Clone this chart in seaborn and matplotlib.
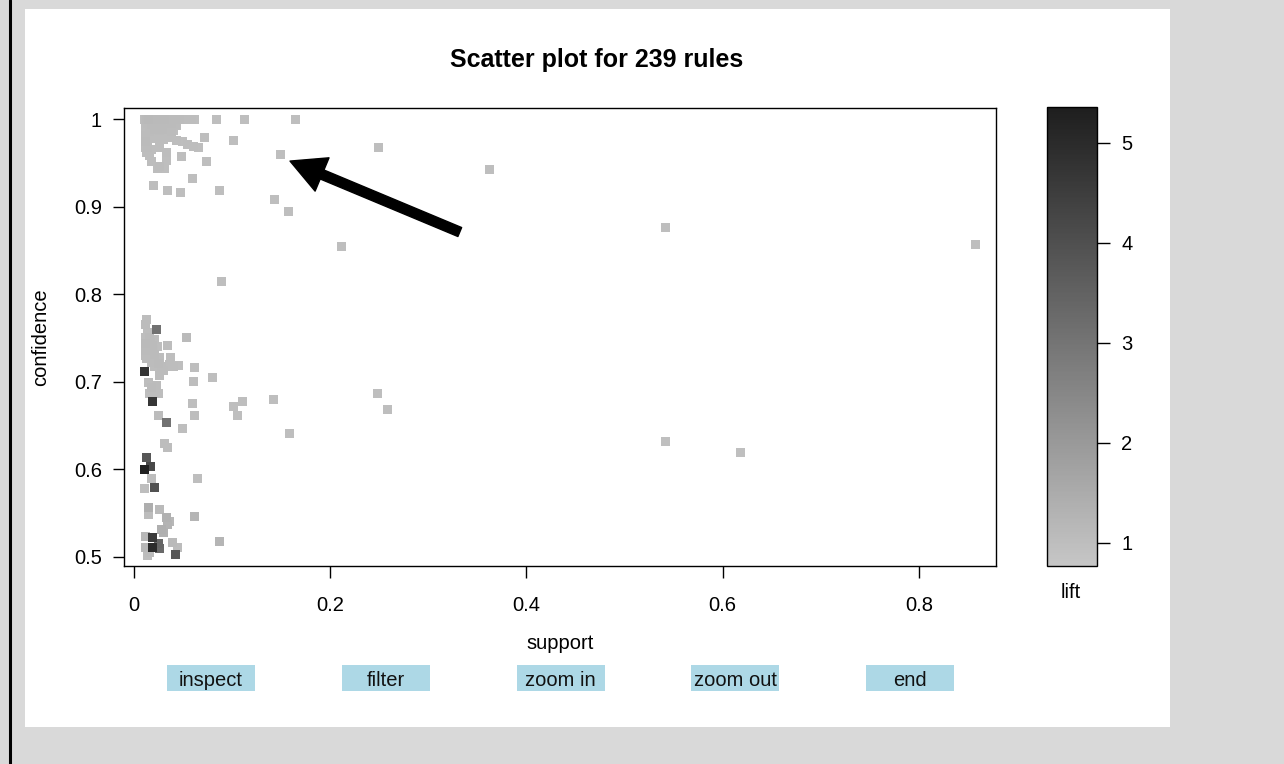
import numpy as np
import pandas as pd
import matplotlib
matplotlib.use("Agg")
import matplotlib.pyplot as plt
from matplotlib.colors import LinearSegmentedColormap, Normalize
from matplotlib.patches import Rectangle
from matplotlib.lines import Line2D
import matplotlib.cm as cm
import seaborn as sns

# ---------------- data ----------------
title_text = "Scatter plot for 239 rules"
x_label = "support"
y_label = "confidence"
color_label = "lift"
x_ticks = [0, 0.2, 0.4, 0.6, 0.8]
x_tick_labels = ["0", "0.2", "0.4", "0.6", "0.8"]
y_ticks = [0.5, 0.6, 0.7, 0.8, 0.9, 1.0]
y_tick_labels = ["0.5", "0.6", "0.7", "0.8", "0.9", "1"]
lift_ticks = [1, 2, 3, 4, 5]
buttons = ["inspect", "filter", "zoom in", "zoom out", "end"]

# rules with confidence = 1
full_support = [0.011, 0.012, 0.013, 0.013, 0.014, 0.015, 0.016, 0.017, 0.018, 0.019,
                0.020, 0.021, 0.022, 0.023, 0.024, 0.025, 0.026, 0.027, 0.028, 0.029,
                0.030, 0.031, 0.032, 0.033, 0.034, 0.035, 0.036, 0.037, 0.038, 0.039,
                0.040, 0.041, 0.042, 0.043, 0.044, 0.045, 0.046, 0.047, 0.048, 0.049,
                0.050, 0.051, 0.052, 0.053, 0.055, 0.056, 0.058, 0.059, 0.061, 0.062,
                0.084, 0.113, 0.165]
full_lift = [1.00, 1.05, 1.10, 1.02, 1.08, 1.12, 1.04, 1.06, 1.09, 1.01,
             1.03, 1.07, 1.11, 1.00, 1.05, 1.02, 1.08, 1.04, 1.06, 1.01,
             1.03, 1.10, 1.00, 1.07, 1.02, 1.05, 1.09, 1.01, 1.04, 1.06,
             1.03, 1.00, 1.08, 1.02, 1.05, 1.01, 1.04, 1.00, 1.03, 1.02,
             1.01, 1.00, 1.02, 1.01, 1.00, 1.01, 1.00, 1.01, 1.00, 1.00,
             1.00, 1.00, 1.00]

# rules with confidence 0.9 - 1 near the origin
high_support = [0.012, 0.014, 0.016, 0.018, 0.020, 0.022, 0.024, 0.026, 0.028, 0.030,
                0.032, 0.034, 0.036, 0.038, 0.040, 0.042, 0.043,
                0.012, 0.014, 0.016, 0.018, 0.021, 0.023, 0.026, 0.029, 0.032, 0.034,
                0.036, 0.038, 0.040,
                0.012, 0.014, 0.012, 0.014, 0.012, 0.014, 0.013, 0.015,
                0.026, 0.029, 0.032, 0.037, 0.043, 0.049, 0.055, 0.061, 0.066,
                0.018, 0.026, 0.033, 0.033, 0.026, 0.018, 0.016, 0.024, 0.031,
                0.022, 0.030, 0.016, 0.021,
                0.072, 0.101, 0.048, 0.074, 0.060, 0.020, 0.034, 0.047, 0.087]
high_confidence = [0.994, 0.995, 0.993, 0.994, 0.995, 0.993, 0.994, 0.995, 0.993, 0.994,
                   0.995, 0.993, 0.994, 0.995, 0.993, 0.994, 0.993,
                   0.987, 0.988, 0.986, 0.987, 0.988, 0.986, 0.987, 0.988, 0.986, 0.987,
                   0.988, 0.986, 0.987,
                   0.981, 0.980, 0.974, 0.975, 0.967, 0.968, 0.962, 0.963,
                   0.981, 0.982, 0.983, 0.979, 0.976, 0.974, 0.971, 0.969, 0.968,
                   0.965, 0.968, 0.962, 0.953, 0.946, 0.951, 0.958, 0.944, 0.944,
                   0.978, 0.977, 0.978, 0.980,
                   0.979, 0.976, 0.957, 0.952, 0.932, 0.924, 0.918, 0.916, 0.918]
high_lift = [1.02, 1.05, 1.01, 1.08, 1.03, 1.06, 1.00, 1.04, 1.07, 1.02,
             1.05, 1.01, 1.03, 1.06, 1.00, 1.04, 1.02,
             1.03, 1.01, 1.05, 1.02, 1.07, 1.00, 1.04, 1.06, 1.01, 1.03,
             1.02, 1.05, 1.00,
             1.04, 1.02, 1.06, 1.01, 1.03, 1.05, 1.02, 1.00,
             1.01, 1.03, 1.00, 1.02, 1.01, 1.00, 1.02, 1.01, 1.00,
             1.03, 1.01, 1.02, 1.00, 1.04, 1.02, 1.01, 1.03, 1.00,
             1.02, 1.01, 1.03, 1.00,
             1.00, 1.00, 1.00, 1.00, 1.00, 1.02, 1.00, 1.00, 1.00]

# isolated rules spread over the plot
far_support = [0.149, 0.249, 0.362, 0.143, 0.157, 0.211, 0.542, 0.858, 0.089,
               0.142, 0.248, 0.258, 0.158, 0.542, 0.618, 0.101, 0.111, 0.105]
far_confidence = [0.960, 0.968, 0.942, 0.908, 0.894, 0.855, 0.876, 0.857, 0.814,
                  0.680, 0.687, 0.668, 0.641, 0.632, 0.619, 0.672, 0.677, 0.661]
far_lift = [1.00, 1.00, 1.00, 1.00, 1.00, 1.00, 1.00, 0.99, 1.00,
            1.00, 1.00, 1.00, 1.00, 0.98, 0.97, 1.00, 1.00, 1.00]

# rules with confidence 0.62 - 0.78
mid_support = [0.013, 0.012, 0.023,
               0.012, 0.016, 0.021, 0.012, 0.014, 0.019, 0.024, 0.012, 0.016, 0.021,
               0.026, 0.013, 0.012, 0.015, 0.020, 0.012, 0.017, 0.022, 0.014, 0.018,
               0.034, 0.037, 0.054, 0.011,
               0.021, 0.028, 0.034, 0.040, 0.045, 0.030, 0.036, 0.025,
               0.062, 0.026, 0.061, 0.080,
               0.015, 0.018, 0.016, 0.023, 0.025, 0.019,
               0.060, 0.062, 0.025, 0.033, 0.049, 0.031, 0.034]
mid_confidence = [0.771, 0.765, 0.760,
                  0.751, 0.751, 0.748, 0.744, 0.742, 0.742, 0.740, 0.736, 0.734, 0.731,
                  0.728, 0.727, 0.746, 0.739, 0.737, 0.730, 0.745, 0.725, 0.756, 0.722,
                  0.742, 0.728, 0.751, 0.712,
                  0.717, 0.717, 0.718, 0.718, 0.719, 0.713, 0.720, 0.721,
                  0.716, 0.707, 0.700, 0.705,
                  0.699, 0.693, 0.687, 0.696, 0.687, 0.677,
                  0.675, 0.662, 0.662, 0.654, 0.647, 0.629, 0.625]
mid_lift = [1.02, 1.05, 3.10,
            1.03, 1.08, 1.01, 1.10, 1.04, 1.06, 1.00, 1.07, 1.02, 1.09,
            1.03, 1.05, 1.01, 1.06, 1.02, 1.04, 1.08, 1.00, 1.03, 1.05,
            1.02, 1.00, 1.10, 4.75,
            1.02, 1.05, 1.01, 1.03, 1.00, 1.04, 1.02, 1.06,
            1.00, 1.05, 1.02, 1.00,
            1.03, 1.06, 1.02, 1.04, 1.01, 4.70,
            1.00, 1.02, 1.05, 3.05, 1.00, 1.03, 1.01]

# rules with confidence 0.5 - 0.62
low_support = [0.013, 0.011, 0.017, 0.018, 0.065, 0.021, 0.011,
               0.015, 0.015, 0.026, 0.033, 0.034, 0.062, 0.028, 0.012,
               0.019, 0.019, 0.025, 0.026, 0.039, 0.044, 0.014, 0.042, 0.087, 0.012,
               0.030, 0.016, 0.036]
low_confidence = [0.614, 0.600, 0.603, 0.590, 0.590, 0.579, 0.578,
                  0.557, 0.548, 0.554, 0.545, 0.537, 0.546, 0.531, 0.523,
                  0.522, 0.511, 0.515, 0.510, 0.516, 0.511, 0.502, 0.503, 0.518, 0.511,
                  0.528, 0.505, 0.541]
low_lift = [3.80, 5.30, 4.20, 1.02, 1.00, 3.95, 1.00,
            1.45, 1.05, 1.10, 1.35, 1.30, 1.25, 1.40, 1.20,
            4.60, 4.95, 3.40, 3.30, 1.10, 1.05, 1.02, 3.80, 1.25, 1.15,
            1.35, 1.08, 1.20]

# ---------------- assemble ----------------
df = pd.DataFrame({
    "support": full_support + high_support + far_support + mid_support + low_support,
    "confidence": [1.0] * len(full_support) + high_confidence + far_confidence
                  + mid_confidence + low_confidence,
    "lift": full_lift + high_lift + far_lift + mid_lift + low_lift,
}).sort_values("lift")

W, H = 1284, 764
DPI = 100
FS = 14.5


def fx(px):
    return px / W


def fy(py):
    return 1 - py / H


sns.set_style("white")
plt.rcParams["font.family"] = ["Liberation Sans", "DejaVu Sans"]
plt.rcParams["text.color"] = "black"
plt.rcParams["axes.labelcolor"] = "black"

fig = plt.figure(figsize=(W / DPI, H / DPI), dpi=DPI, facecolor="#d9d9d9")

# white panel and left border line (drawn beneath the axes)
fig.patches.append(Rectangle((fx(25), fy(727)), fx(1170) - fx(25), fy(9) - fy(727),
                             transform=fig.transFigure, facecolor="white",
                             edgecolor="none", zorder=-5))
fig.lines.append(Line2D([fx(10), fx(10)], [0, 1], transform=fig.transFigure,
                        color="black", linewidth=2.2, zorder=-4))

cmap = LinearSegmentedColormap.from_list("grey_lift", ["#c6c6c6", "#1e1e1e"])
norm = Normalize(vmin=0.77, vmax=5.36)

ax = fig.add_axes([fx(124), fy(566), fx(996) - fx(124), fy(108) - fy(566)])
ax.set_facecolor("white")
sns.scatterplot(data=df, x="support", y="confidence", hue="lift", palette=cmap,
                hue_norm=norm, marker="s", s=42, linewidth=0, legend=False, ax=ax,
                zorder=3)

ax.set_xlim(-0.0102, 0.8785)
ax.set_ylim(0.4897, 1.0126)
ax.set_xticks(x_ticks)
ax.set_xticklabels(x_tick_labels)
ax.set_yticks(y_ticks)
ax.set_yticklabels(y_tick_labels)
ax.tick_params(axis="x", direction="out", length=8.5, width=1, pad=13, labelsize=FS,
               colors="black", bottom=True)
ax.tick_params(axis="y", direction="out", length=8, width=1, pad=8, labelsize=FS,
               colors="black", left=True)
for sp in ax.spines.values():
    sp.set_visible(True)
    sp.set_color("black")
    sp.set_linewidth(1)

ax.set_xlabel(x_label, fontsize=FS)
ax.set_ylabel(y_label, fontsize=FS)
ax.xaxis.set_label_coords(0.5, (566 - 634) / 458)
ax.yaxis.set_label_coords((50 - 124) / 872, 0.5)

fig.text(fx(597), fy(60), title_text, ha="center", va="center", fontsize=18,
         fontweight="bold")

# arrow pointing at a rule
ax.annotate("", xy=(0.159, 0.952), xytext=(0.332, 0.871),
            arrowprops=dict(facecolor="black", edgecolor="black", width=7,
                            headwidth=26, headlength=25, shrink=0), zorder=5)

# colour key
cax = fig.add_axes([fx(1047), fy(566), fx(1097) - fx(1047), fy(107) - fy(566)])
sm = cm.ScalarMappable(norm=norm, cmap=cmap)
cb = fig.colorbar(sm, cax=cax, ticks=lift_ticks)
cb.outline.set_edgecolor("black")
cb.outline.set_linewidth(1)
cax.tick_params(length=9.5, width=1, pad=8, labelsize=FS, colors="black")
fig.text(fx(1071), fy(592), color_label, ha="center", va="center", fontsize=FS)

# interactive buttons
for i, name in enumerate(buttons):
    left = 167 + i * 174.75
    fig.patches.append(Rectangle((fx(left), fy(691)), fx(88), fy(665) - fy(691),
                                 transform=fig.transFigure, facecolor="#add8e6",
                                 edgecolor="none", zorder=2))
    fig.text(fx(left + 44), fy(680), name, ha="center", va="center", fontsize=FS,
             color="#111111", zorder=3)

fig.savefig("out.png", dpi=DPI, facecolor=fig.get_facecolor())
